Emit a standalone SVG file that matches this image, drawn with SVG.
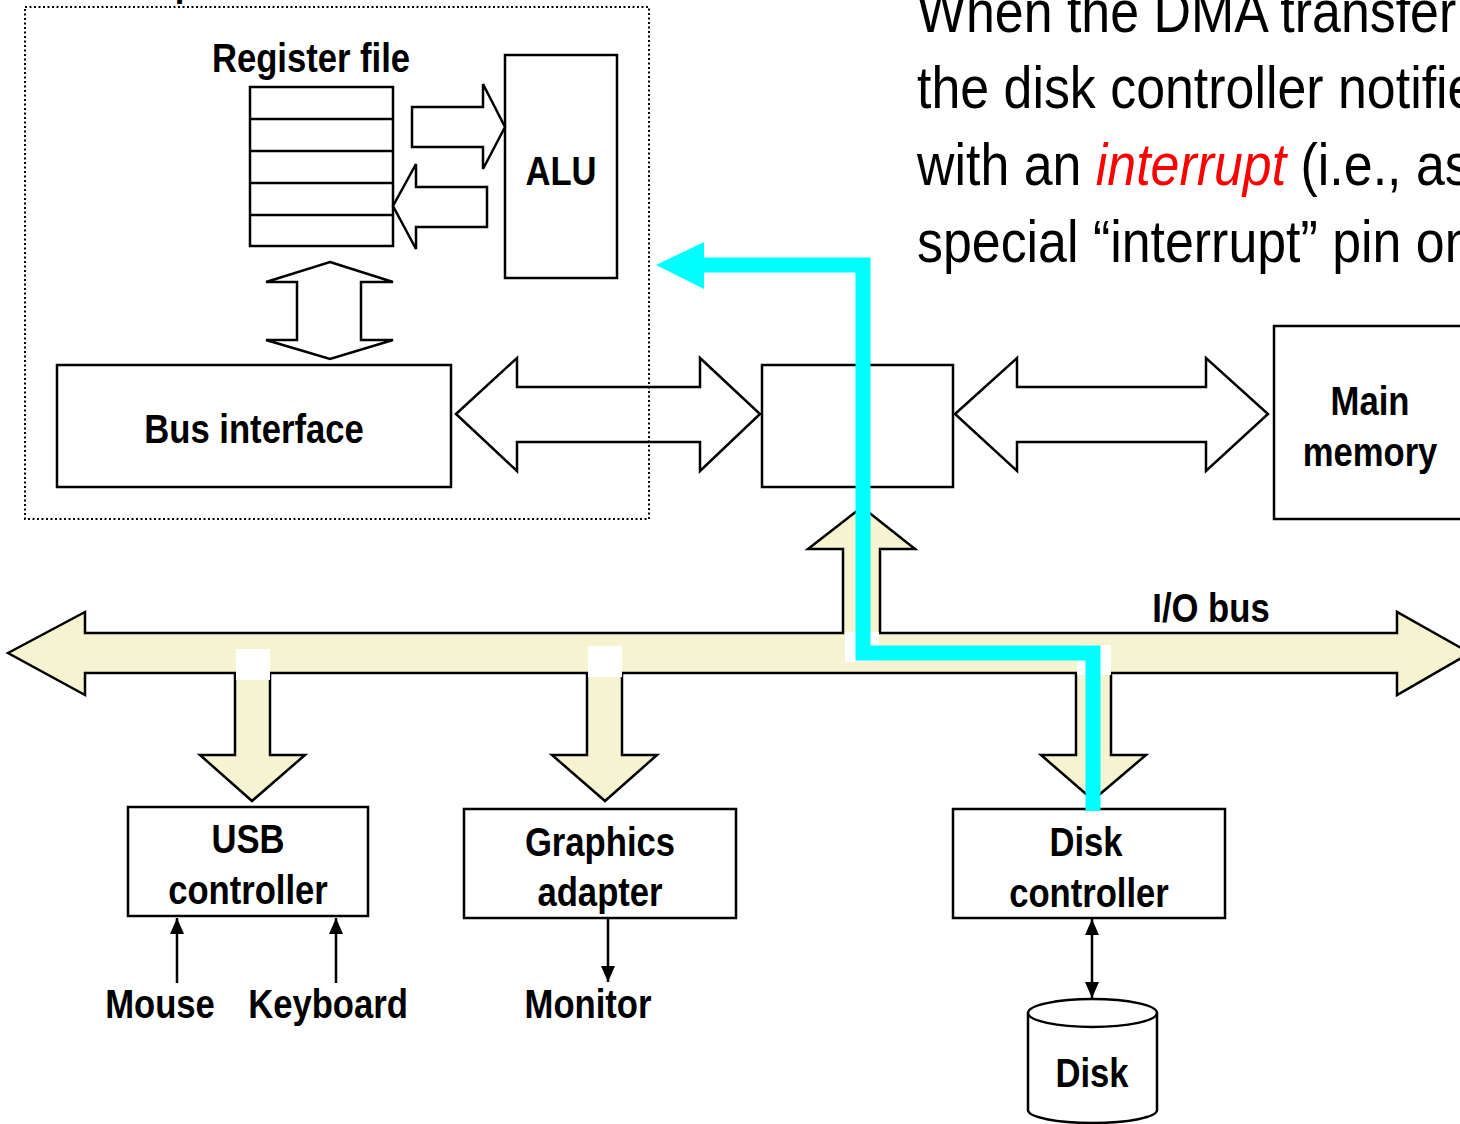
<svg xmlns="http://www.w3.org/2000/svg" width="1460" height="1124" viewBox="0 0 1460 1124">
<style>
.box{fill:#fff;stroke:#000;stroke-width:2.5}
.warrow{fill:#fff;stroke:#000;stroke-width:2.5;stroke-linejoin:miter}
.bus{fill:#f5f3d0;stroke:#000;stroke-width:2.5;stroke-linejoin:miter}
.lbl{font-family:"Liberation Sans",Arial,Helvetica,sans-serif;font-weight:bold;font-size:41px;fill:#000}
.para{font-family:"Liberation Sans",Arial,Helvetica,sans-serif;font-size:60px;fill:#000}
.thin{stroke:#000;stroke-width:2.5;fill:none}
.patch{fill:#fff;stroke:none}
</style>
<defs>
<marker id="ah" viewBox="0 0 16 14" refX="16" refY="7" markerWidth="16" markerHeight="14" markerUnits="userSpaceOnUse" orient="auto-start-reverse">
<path d="M0,0 L16,7 L0,14 Z" fill="#000"/>
</marker>
</defs>

<text class="lbl" transform="translate(42,-4) scale(0.845,1)">CPU chip</text>

<g id="paragraph">
<text class="para" transform="translate(917,32) scale(0.865,1)">When the DMA transfer</text>
<text class="para" transform="translate(917,108) scale(0.865,1)">the disk controller notifies</text>
<text class="para" transform="translate(917,185) scale(0.865,1)">with an <tspan fill="#ff0000" font-style="italic">interrupt</tspan> (i.e., asserts</text>
<text class="para" transform="translate(917,262) scale(0.865,1)">special “interrupt” pin on</text>
</g>

<g id="register-file">
<rect class="box" x="250" y="87" width="143" height="159"/>
<line class="thin" x1="250" y1="119" x2="393" y2="119"/>
<line class="thin" x1="250" y1="151" x2="393" y2="151"/>
<line class="thin" x1="250" y1="183" x2="393" y2="183"/>
<line class="thin" x1="250" y1="215" x2="393" y2="215"/>
<text class="lbl" text-anchor="middle" transform="translate(311,72) scale(0.845,1)">Register file</text>
</g>

<g id="alu">
<rect class="box" x="505" y="55" width="112" height="223"/>
<text class="lbl" text-anchor="middle" transform="translate(561,185) scale(0.845,1)">ALU</text>
</g>

<g id="bus-interface">
<rect class="box" x="57" y="365" width="394" height="122"/>
<text class="lbl" text-anchor="middle" transform="translate(254,443) scale(0.845,1)">Bus interface</text>
</g>

<g id="io-bridge">
<rect class="box" x="762" y="365" width="191" height="122"/>
</g>

<g id="main-memory">
<rect class="box" x="1274" y="326" width="200" height="193"/>
<text class="lbl" text-anchor="middle" transform="translate(1370,415) scale(0.845,1)">Main</text>
<text class="lbl" text-anchor="middle" transform="translate(1370,466) scale(0.845,1)">memory</text>
</g>

<g id="usb-controller">
<rect class="box" x="128" y="807" width="240" height="109"/>
<text class="lbl" text-anchor="middle" transform="translate(248,853) scale(0.845,1)">USB</text>
<text class="lbl" text-anchor="middle" transform="translate(248,904) scale(0.845,1)">controller</text>
</g>

<g id="graphics-adapter">
<rect class="box" x="464" y="809" width="272" height="109"/>
<text class="lbl" text-anchor="middle" transform="translate(600,856) scale(0.845,1)">Graphics</text>
<text class="lbl" text-anchor="middle" transform="translate(600,906) scale(0.845,1)">adapter</text>
</g>

<g id="disk-controller">
<rect class="box" x="953" y="809" width="272" height="109"/>
<text class="lbl" text-anchor="middle" transform="translate(1086,856) scale(0.845,1)">Disk</text>
<text class="lbl" text-anchor="middle" transform="translate(1089,907) scale(0.845,1)">controller</text>
</g>

<g id="disk">
<path class="box" d="M1028,1013 A64.5,14 0 0 1 1157,1013 L1157,1110 A64.5,13 0 0 1 1028,1110 Z"/>
<path class="thin" d="M1028,1013 A64.5,14 0 0 0 1157,1013"/>
<text class="lbl" text-anchor="middle" transform="translate(1092,1087) scale(0.845,1)">Disk</text>
</g>

<g id="mouse"><text class="lbl" text-anchor="middle" transform="translate(160,1018) scale(0.845,1)">Mouse</text></g>
<g id="keyboard"><text class="lbl" text-anchor="middle" transform="translate(328,1018) scale(0.845,1)">Keyboard</text></g>
<g id="monitor"><text class="lbl" text-anchor="middle" transform="translate(588,1018) scale(0.845,1)">Monitor</text></g>

<g id="connectors">
<polygon class="warrow" points="412,107 483,107 483,84 505,127 483,169 483,147 412,147"/>
<polygon class="warrow" points="487,187 416,187 416,164 393,206 416,249 416,227 487,227"/>
<polygon class="warrow" points="330,262 393,282 361,282 361,340 393,340 330,359 266,340 297,340 297,282 266,282"/>
<polygon class="warrow" points="456,414 517,358 517,387 700,387 700,358 760,414 700,471 700,442 517,442 517,471"/>
<polygon class="warrow" points="955,414 1017,358 1017,387 1206,387 1206,358 1268,414 1206,471 1206,442 1017,442 1017,471"/>

<polygon class="bus" points="8,653 85,612 85,633 843,633 843,549 808,549 862,507 915,549 880,549 880,633 1397,633 1397,612 1470,653 1397,695 1397,673 1111,673 1111,755 1146,755 1093,800 1041,755 1076,755 1076,673 622,673 622,755 657,755 605,801 552,755 587,755 587,673 270,673 270,755 305,755 252,801 200,755 235,755 235,673 85,673 85,695"/>
<rect class="patch" x="236" y="649" width="34" height="31"/>
<rect class="patch" x="588" y="646" width="34" height="31"/>
<rect class="patch" x="845" y="632" width="34" height="30"/>
<rect class="patch" x="1077" y="645" width="34" height="30"/>
<text class="lbl" text-anchor="middle" transform="translate(1211,622) scale(0.845,1)">I/O bus</text>

<line class="thin" x1="177" y1="983" x2="177" y2="918" marker-end="url(#ah)"/>
<line class="thin" x1="336" y1="983" x2="336" y2="918" marker-end="url(#ah)"/>
<line class="thin" x1="608" y1="919" x2="608" y2="982" marker-end="url(#ah)"/>
<line class="thin" x1="1092" y1="919" x2="1092" y2="998" marker-start="url(#ah)" marker-end="url(#ah)"/>

<rect x="25" y="7" width="624" height="512" fill="none" stroke="#000" stroke-width="2" stroke-dasharray="2 2.5"/>

<polyline points="700,265 863,265 863,653 1093,653 1093,811" fill="none" stroke="#00ffff" stroke-width="15" stroke-linejoin="miter" stroke-linecap="butt"/>
<polygon points="656,265 704,242 704,289" fill="#00ffff"/>
</g>
</svg>
